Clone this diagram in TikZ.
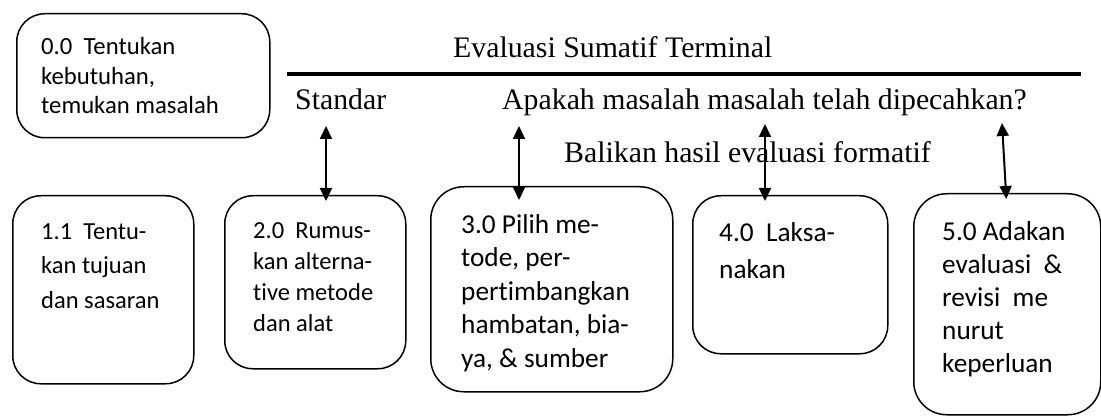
\documentclass[tikz,border=0pt]{standalone}
\usepackage{fontspec}
\setmainfont{Liberation Serif}
\newfontfamily\boxfont{Carlito}[Ligatures=NoCommon]
\usetikzlibrary{arrows.meta}
\tikzset{
  procbox/.style={draw, line width=1.5pt, rounded corners=28pt, inner sep=0pt},
  boxtext/.style={anchor=base west, align=left, inner sep=0pt},
  lbl/.style={anchor=base west, inner sep=0pt, font=\fontsize{29.8}{34}\selectfont},
  link/.style={{Triangle[length=13pt,width=12pt]}-{Triangle[length=13pt,width=12pt]}, line width=2pt, shorten >=-6pt},
}
\begin{document}
\begin{tikzpicture}[x=1pt,y=-1pt]
\useasboundingbox (0,0) rectangle (1101,417);
% boxes
\node[procbox, minimum width=253pt, minimum height=124pt, anchor=north west] (b0) at (16,13) {};
\node[procbox, minimum width=181pt, minimum height=188pt, anchor=north west] (b1) at (12,195) {};
\node[procbox, minimum width=181pt, minimum height=173pt, anchor=north west] (b2) at (224,195) {};
\node[procbox, minimum width=242pt, minimum height=205pt, anchor=north west, rounded corners=33pt] (b3) at (430,186) {};
\node[procbox, minimum width=195pt, minimum height=158pt, anchor=north west] (b4) at (692,195) {};
\node[procbox, minimum width=187pt, minimum height=221pt, anchor=north west, rounded corners=33pt] (b5) at (913,193) {};
% box texts (anchored at the baseline of the last line)
\node[boxtext, font=\boxfont\fontsize{24.7}{29.5}\selectfont] (t0) at (41,114) {0.0\ \ Tentukan\\kebutuhan,\\temukan masalah};
\node[boxtext, font=\boxfont\fontsize{24.5}{34.5}\selectfont] (t1) at (41,308) {1.1\ \ Tentu-\\kan tujuan\\dan sasaran};
\node[boxtext, font=\boxfont\fontsize{24.5}{30.7}\selectfont] (t2) at (253,331) {2.0\ \ Rumus-\\kan alterna-\\tive metode\\dan alat};
\node[boxtext, font=\boxfont\fontsize{27.3}{33.5}\selectfont] (t3) at (461,367) {3.0 Pilih me-\\tode, per-\\pertimbangkan\\hambatan, bia-\\ya, \& sumber};
\node[boxtext, font=\boxfont\fontsize{27.3}{37}\selectfont] (t4) at (719,278) {4.0\ \ Laksa-\\nakan};
\node[boxtext, font=\boxfont\fontsize{27.3}{33}\selectfont] (t5) at (942,372) {5.0 Adakan\\evaluasi\ \ \&\\revisi\ \ me\\nurut\\keperluan};
% top labels and rule
\node[lbl] (title) at (453,58) {Evaluasi Sumatif Terminal};
\coordinate (r1) at (287,74);
\coordinate (r2) at (1081,74);
\draw[line width=4pt] (r1) -- (r2);
\node[lbl] (std) at (295,110) {Standar};
\node[lbl] (q) at (502,110) {Apakah masalah masalah telah dipecahkan?};
\node[lbl] (fb) at (564,163) {Balikan hasil evaluasi formatif};
% arrows
\coordinate (s2) at (326,126);
\coordinate (s3) at (519,126);
\coordinate (s4) at (765,124);
\coordinate (s5) at (1002,123);
\draw[link] (s2) -- (b2.north -| s2);
\draw[link, shorten >=-14pt] (s3) -- (b3.north -| s3);
\draw[link] (s4) -- (b4.north -| s4);
\coordinate (e5) at (1006,193);
\draw[link] (s5) -- (e5);
\end{tikzpicture}
\end{document}
